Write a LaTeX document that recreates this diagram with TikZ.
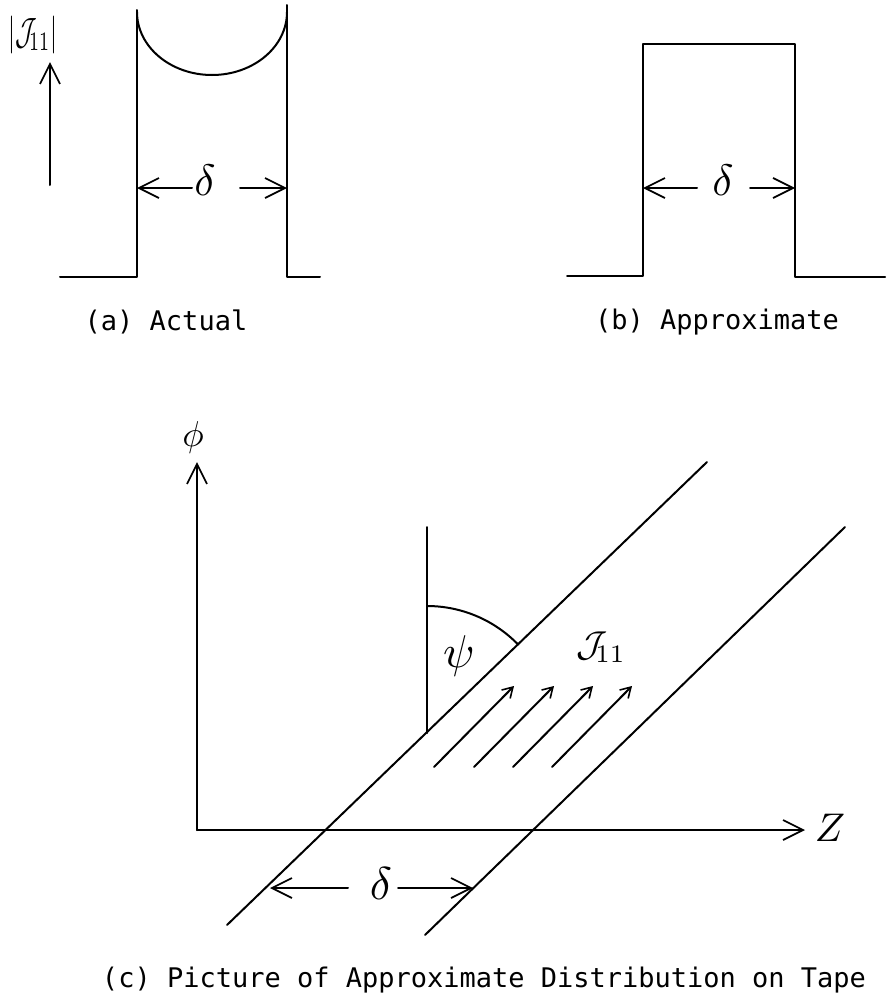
\documentclass[tikz,border=0pt]{standalone}
\usepackage{fontspec}
\newfontfamily\capfont{DejaVu Sans Mono}
\usetikzlibrary{arrows.meta}
\begin{document}
\begin{tikzpicture}[x=1pt,y=-1pt,
  ln/.style={line width=2pt, line cap=round, line join=round},
  barb/.style={-{Straight Barb[length=20pt,width=20pt,line width=1.7pt]}},
  sbarb/.style={-{Straight Barb[length=10pt,width=12pt,line width=1.6pt]}},
  captxt/.style={font=\capfont\fontsize{27}{30}\selectfont, inner sep=0pt},
  sym/.style={inner sep=0pt}]
\useasboundingbox (0,0) rectangle (895,1007);

% ---------- (a) Actual ----------
\draw[ln] (60,277) -- (137,277) -- (137,10);
\draw[ln] (287,5) -- (287,277) -- (320,277);
\draw[ln] (137,12) arc[start angle=180,end angle=0,x radius=75,y radius=63];
\node[sym] (da) at (205,180) {\scalebox{4.4}{$\delta$}};
\draw[ln,barb] (192,188) -- (137,188);
\draw[ln,barb] (240,188) -- (287,188);
\draw[ln,barb] (50,185) -- (50,62);
\node[sym] (ja) at (33,35) {\scalebox{2.5}[3.8]{$|\mathcal{J}_{\!11}|$}};
\node[captxt] (capa) at (166,322) {(a) Actual};

% ---------- (b) Approximate ----------
\draw[ln] (567,276) -- (643,276) -- (643,44) -- (795,44) -- (795,277) -- (885,277);
\node[sym] (db) at (723,180) {\scalebox{4.4}{$\delta$}};
\draw[ln,barb] (697,188) -- (643,188);
\draw[ln,barb] (750,188) -- (795,188);
\node[captxt] (capb) at (717,322) {(b) Approximate};

% ---------- (c) ----------
\draw[ln,barb] (197,830) -- (197,462);
\draw[ln,barb] (197,830) -- (805,830);
\node[sym] (phi) at (193,437) {\scalebox{3.6}{$\phi$}};
\node[sym] (z) at (830,828) {\scalebox{4}{$Z$}};
\draw[ln] (227,925) -- (707,462);
\draw[ln] (425,935) -- (845,527);
\draw[ln] (427,527) -- (427,733);
\draw[ln] (427,606) arc[start angle=-90,end angle=-44,radius=127];
\node[sym] (psi) at (459,656) {\scalebox{4.6}{$\psi$}};
\node[sym] (jc) at (601,647) {\scalebox{3.6}{$\mathcal{J}_{\!11}$}};
\draw[ln,sbarb] (434,767) -- (514,686);
\draw[ln,sbarb] (474,767) -- (554,686);
\draw[ln,sbarb] (513,767) -- (593,686);
\draw[ln,sbarb] (552,767) -- (632,686);
\node[sym] (dc) at (381,884) {\scalebox{4.6}{$\delta$}};
\draw[ln,barb] (348,888) -- (270,888);
\draw[ln,barb] (398,888) -- (473,888);
\node[captxt] (capc) at (484,980) {(c) Picture of Approximate Distribution on Tape};
\end{tikzpicture}
\end{document}
